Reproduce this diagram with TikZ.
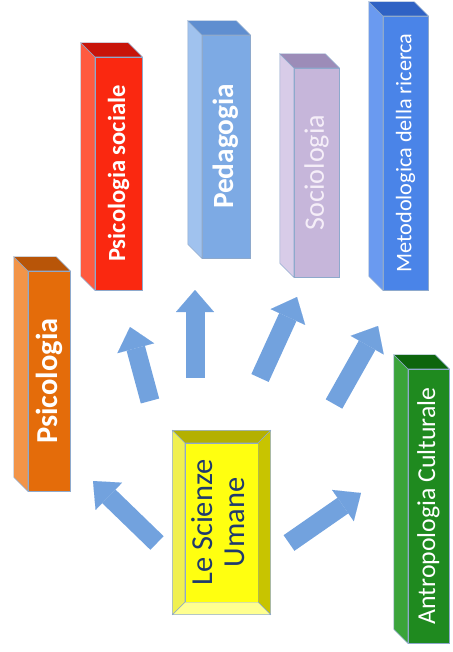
\documentclass[tikz,border=0pt]{standalone}
\usepackage{fontspec}
\setmainfont{Carlito}
\usetikzlibrary{arrows.meta,positioning}

\definecolor{barline}{HTML}{8EA9CC}
\definecolor{psifront}{HTML}{E46C0A}
\definecolor{psiside}{HTML}{F29448}
\definecolor{psitop}{HTML}{B85508}
\definecolor{psocfront}{HTML}{FA2810}
\definecolor{psocside}{HTML}{FF5A40}
\definecolor{psoctop}{HTML}{C8140A}
\definecolor{pedfront}{HTML}{7DAAE4}
\definecolor{pedside}{HTML}{A0C2EE}
\definecolor{pedtop}{HTML}{5F8ED0}
\definecolor{socfront}{HTML}{C6B6DA}
\definecolor{socside}{HTML}{D8CCE8}
\definecolor{soctop}{HTML}{9C8CB8}
\definecolor{sockext}{HTML}{F5EEF8}
\definecolor{metfront}{HTML}{4A84E8}
\definecolor{metside}{HTML}{6A9AF0}
\definecolor{mettop}{HTML}{2F62C4}
\definecolor{antfront}{HTML}{1F8A1F}
\definecolor{antside}{HTML}{3AA43A}
\definecolor{anttop}{HTML}{0D650D}
\definecolor{scifront}{HTML}{FFFF10}
\definecolor{scitop}{HTML}{B4B000}
\definecolor{scileft}{HTML}{F0F050}
\definecolor{scibottom}{HTML}{FFFF90}
\definecolor{sciright}{HTML}{C8C400}
\definecolor{scitext}{HTML}{1F3A6E}
\definecolor{arrowblue}{HTML}{72A2DE}

\tikzset{
  bar/.style={rectangle, draw=barline, line width=0.4pt, inner sep=0pt,
    text=white, font=\fontsize{19}{22}\selectfont},
  bevel/.style={draw=barline, line width=0.4pt},
  back/.style={shift={(-0.42cm,0.42cm)}},
  block/.style={line width=0.57cm, draw=arrowblue,
    -{Triangle[length=0.66cm 0, width=1.14cm 0, line width=0.01pt]}}
}

\begin{document}
\begin{tikzpicture}[x=0.03cm,y=-0.03cm]
  \useasboundingbox (0,0) rectangle (452,652); %Picture frame

  \node[bar, fill=psifront, font=\fontsize{26}{30}\selectfont, minimum width=1.26cm, minimum height=6.6cm] (psi) at (49,381) {\rotatebox{90}{\bfseries Psicologia}}; %Psicologia bar
  \filldraw[bevel, fill=psiside] (psi.south west) -- (psi.north west) -- ([back]psi.north west) -- ([back]psi.south west) -- cycle; %Side face
  \filldraw[bevel, fill=psitop] (psi.north west) -- (psi.north east) -- ([back]psi.north east) -- ([back]psi.north west) -- cycle; %Top face

  \node[bar, fill=psocfront, font=\fontsize{21}{25}\selectfont, minimum width=1.41cm, minimum height=6.99cm] (psoc) at (118.5,173.5) {\rotatebox{90}{\bfseries Psicologia sociale}}; %Psicologia sociale bar
  \filldraw[bevel, fill=psocside] (psoc.south west) -- (psoc.north west) -- ([back]psoc.north west) -- ([back]psoc.south west) -- cycle; %Side face
  \filldraw[bevel, fill=psoctop] (psoc.north west) -- (psoc.north east) -- ([back]psoc.north east) -- ([back]psoc.north west) -- cycle; %Top face

  \node[bar, fill=pedfront, font=\fontsize{25}{29}\selectfont, minimum width=1.44cm, minimum height=6.69cm] (ped) at (226,146.5) {\rotatebox{90}{\bfseries Pedagogia}}; %Pedagogia bar
  \filldraw[bevel, fill=pedside] (ped.south west) -- (ped.north west) -- ([back]ped.north west) -- ([back]ped.south west) -- cycle; %Side face
  \filldraw[bevel, fill=pedtop] (ped.north west) -- (ped.north east) -- ([back]ped.north east) -- ([back]ped.north west) -- cycle; %Top face

  \node[bar, fill=socfront, text=sockext, font=\fontsize{24}{28}\selectfont, minimum width=1.35cm, minimum height=6.27cm] (soc) at (316.5,172.5) {\rotatebox{90}{Sociologia}}; %Sociologia bar
  \filldraw[bevel, fill=socside] (soc.south west) -- (soc.north west) -- ([back]soc.north west) -- ([back]soc.south west) -- cycle; %Side face
  \filldraw[bevel, fill=soctop] (soc.north west) -- (soc.north east) -- ([back]soc.north east) -- ([back]soc.north west) -- cycle; %Top face

  \node[bar, fill=metfront, minimum width=1.35cm, minimum height=8.22cm] (met) at (405.5,153) {\rotatebox{90}{Metodologica della ricerca}}; %Metodologica bar
  \filldraw[bevel, fill=metside] (met.south west) -- (met.north west) -- ([back]met.north west) -- ([back]met.south west) -- cycle; %Side face
  \filldraw[bevel, fill=mettop] (met.north west) -- (met.north east) -- ([back]met.north east) -- ([back]met.north west) -- cycle; %Top face

  \node[bar, fill=antfront, font=\fontsize{22}{26}\selectfont, minimum width=1.23cm, minimum height=8.22cm] (ant) at (428.5,506) {\rotatebox{90}{Antropologia Culturale}}; %Antropologia bar
  \filldraw[bevel, fill=antside] (ant.south west) -- (ant.north west) -- ([back]ant.north west) -- ([back]ant.south west) -- cycle; %Side face
  \filldraw[bevel, fill=anttop] (ant.north west) -- (ant.north east) -- ([back]ant.north east) -- ([back]ant.north west) -- cycle; %Top face

  \node[bar, fill=scifront, text=scitext, font=\fontsize{26}{30}\selectfont, minimum width=2.19cm, minimum height=4.77cm] (sci) at (221.5,522.5) {\rotatebox{90}{\begin{tabular}{@{}c@{}}Le Scienze\\[-2pt]Umane\end{tabular}}}; %Le Scienze Umane box
  \filldraw[bevel, fill=scitop] (sci.north west) -- (sci.north east) -- ([shift={(0.37cm,0.37cm)}]sci.north east) -- ([shift={(-0.37cm,0.37cm)}]sci.north west) -- cycle; %Top bevel
  \filldraw[bevel, fill=sciright] (sci.north east) -- (sci.south east) -- ([shift={(0.37cm,-0.37cm)}]sci.south east) -- ([shift={(0.37cm,0.37cm)}]sci.north east) -- cycle; %Right bevel
  \filldraw[bevel, fill=scibottom] (sci.south east) -- (sci.south west) -- ([shift={(-0.37cm,-0.37cm)}]sci.south west) -- ([shift={(0.37cm,-0.37cm)}]sci.south east) -- cycle; %Bottom bevel
  \filldraw[bevel, fill=scileft] (sci.south west) -- (sci.north west) -- ([shift={(-0.37cm,0.37cm)}]sci.north west) -- ([shift={(-0.37cm,-0.37cm)}]sci.south west) -- cycle; %Left bevel

  \coordinate (psitail) at (157,543); \coordinate (psihead) at (93,481);
  \coordinate (psoctail) at (150,401); \coordinate (psochead) at (130,327);
  \coordinate (pedtail) at (195,378); \coordinate (pedhead) at (195,290);
  \coordinate (soctail) at (260,378); \coordinate (sochead) at (297,297);
  \coordinate (mettail) at (334,404); \coordinate (methead) at (378,326);
  \coordinate (anttail) at (289,543); \coordinate (anthead) at (361,493);

  \draw[block] (psitail) -- (psihead); %Arrow to Psicologia
  \draw[block] (psoctail) -- (psochead); %Arrow to Psicologia sociale
  \draw[block] (pedtail) -- (pedhead); %Arrow to Pedagogia
  \draw[block] (soctail) -- (sochead); %Arrow to Sociologia
  \draw[block] (mettail) -- (methead); %Arrow to Metodologica
  \draw[block] (anttail) -- (anthead); %Arrow to Antropologia
\end{tikzpicture}
\end{document}
